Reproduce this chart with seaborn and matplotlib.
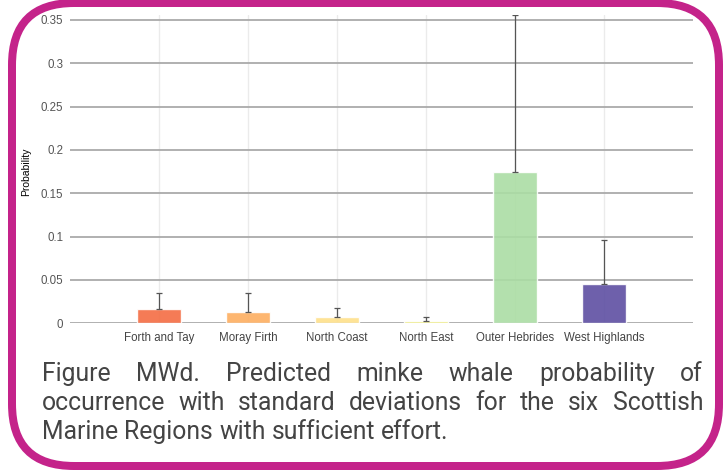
import seaborn as sns
import matplotlib.pyplot as plt
import pandas as pd
import numpy as np
from matplotlib.patches import FancyBboxPatch
from matplotlib.transforms import IdentityTransform

# values
regions = ['Forth and Tay', 'Moray Firth', 'North Coast', 'North East',
           'Outer Hebrides', 'West Highlands']
probability = [0.0162, 0.0134, 0.0077, 0.0022, 0.1743, 0.0450]
std_dev = [0.0184, 0.0212, 0.0096, 0.0048, 0.1812, 0.0508]
bar_colors = ['#F46D43', '#FDAE61', '#FEE08B', '#EFEC6E', '#ABDDA4', '#5E4FA2']
yticks = [0, 0.05, 0.1, 0.15, 0.2, 0.25, 0.3, 0.35]
ytick_labels = ['0', '0.05', '0.1', '0.15', '0.2', '0.25', '0.3', '0.35']
caption_lines = [
    'Figure MWd. Predicted minke whale probability of',
    'occurrence with standard deviations for the six Scottish',
    'Marine Regions with sufficient effort.',
]

sns.set_style('white')
plt.rcParams['font.family'] = ['Liberation Sans', 'DejaVu Sans']

W, H = 725, 473
fig = plt.figure(figsize=(W / 100, H / 100), dpi=100)
ax = fig.add_axes([70 / W, 1 - 323.3 / H, 623 / W, (323.3 - 15) / H])

df = pd.DataFrame({'region': regions, 'probability': probability})
sns.barplot(data=df, x='region', y='probability', hue='region',
            palette=bar_colors, legend=False, width=0.5, alpha=0.9,
            saturation=1, errorbar=None, ax=ax)

# one-sided (upper) standard deviation bars
ax.errorbar(np.arange(len(regions)), probability,
            yerr=[np.zeros(len(regions)), std_dev], fmt='none',
            ecolor='#555555', elinewidth=0.9, capsize=2.2, capthick=0.9)

ax.set_xlim(-1, len(regions))
ax.set_ylim(0, 0.3557)
ax.set_yticks(yticks, ytick_labels)
ax.set_axisbelow(True)
ax.yaxis.grid(True, color='#aaaaaa', linewidth=1.3)
ax.xaxis.grid(True, color='#ebebeb', linewidth=1)
for s in ax.spines.values():
    s.set_visible(False)
ax.tick_params(axis='y', length=0, pad=5, labelsize=8.3, labelcolor='#555555')
ax.tick_params(axis='x', length=0, pad=6, labelsize=8.3, labelcolor='#444444')
ax.set_xlabel('')
ax.set_ylabel('Probability', fontsize=7.5, color='black')
ax.yaxis.set_label_coords((31 - 70) / 623, 0.49)

# justified caption, word by word
renderer = fig.canvas.get_renderer()
left, right = 42, 703
baselines = [381, 410, 439]
cap_kw = dict(family='Roboto', fontsize=17.8, color='#444444', va='baseline')
for i, line in enumerate(caption_lines):
    words = line.split(' ')
    texts = [fig.text(0, 0, w, transform=IdentityTransform(), **cap_kw) for w in words]
    widths = [t.get_window_extent(renderer).width for t in texts]
    if i < len(caption_lines) - 1:
        gap = (right - left - sum(widths)) / (len(words) - 1)
    else:
        sp = fig.text(0, 0, 'a a', transform=IdentityTransform(), **cap_kw)
        aa = fig.text(0, 0, 'aa', transform=IdentityTransform(), **cap_kw)
        gap = sp.get_window_extent(renderer).width - aa.get_window_extent(renderer).width
        sp.remove()
        aa.remove()
    x = left
    for t, w in zip(texts, widths):
        t.set_position((x, H - baselines[i]))
        x += w + gap

# rounded magenta frame
frame = FancyBboxPatch((12, H - 466), 707, 463,
                       boxstyle='round,pad=0,rounding_size=62',
                       transform=IdentityTransform(), fill=False,
                       edgecolor='#C4238A', linewidth=8 * 72 / 100)
fig.add_artist(frame)

fig.savefig('out.png', dpi=100)
